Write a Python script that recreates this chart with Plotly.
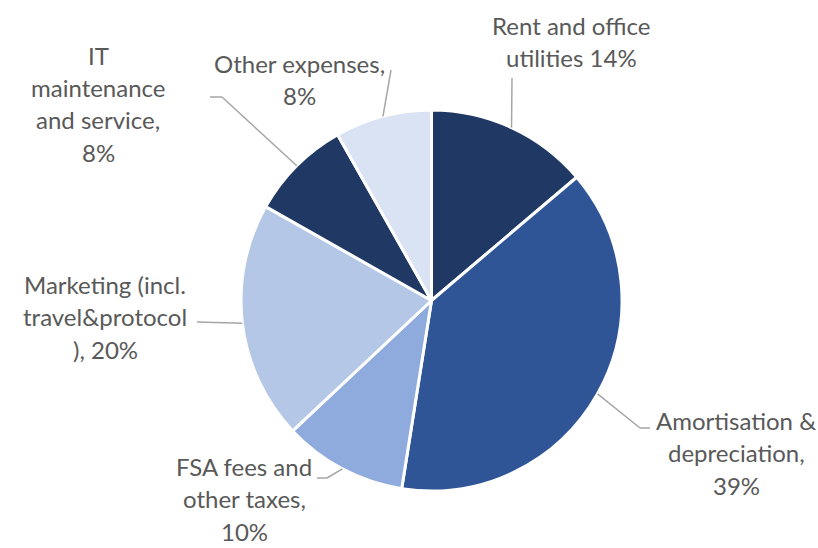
import math
import plotly.graph_objects as go

categories = ["Rent and office utilities", "Amortisation & depreciation", "FSA fees and other taxes",
              "Marketing (incl. travel&protocol)", "IT maintenance and service", "Other expenses"]
values = [13.8, 38.7, 10.5, 20.2, 8.6, 8.2]
label_lines = [
    ["Rent and office", "utilities 14%"],
    ["Amortisation &", "depreciation,", "39%"],
    ["FSA fees and", "other taxes,", "10%"],
    ["Marketing (incl.", "travel&protocol", "), 20%"],
    ["IT", "maintenance", "and service,", "8%"],
    ["Other expenses,", "8%"],
]
colors = ["#203864", "#2F5597", "#8FAADC", "#B4C7E7", "#203864", "#DAE3F3"]

W, H = 818, 548
cx, cy, R = 431.5, 300.5, 190.5

# label placement (pixels): text centre x, first line y, elbow point, line end
label_pos = [
    dict(x=571, y=25, elbow=None, end=(512, 78)),
    dict(x=736, y=420, elbow=(640, 428), end=(650, 428)),
    dict(x=244, y=466, elbow=(327, 478), end=(317, 478)),
    dict(x=105, y=284, elbow=None, end=(197, 322)),
    dict(x=98, y=55, elbow=(222, 97), end=(210, 97)),
    dict(x=299, y=63, elbow=None, end=(391, 70)),
]
line_gap = 32.5


def px(x, y):
    return x / W, 1 - y / H


fig = go.Figure(go.Pie(
    labels=categories, values=values, sort=False, direction="clockwise", rotation=0,
    marker=dict(colors=colors, line=dict(color="white", width=3)),
    textinfo="none", hoverinfo="label+percent", showlegend=False,
    domain=dict(x=[(cx - R) / W, (cx + R) / W], y=[1 - (cy + R) / H, 1 - (cy - R) / H]),
))

annotations = []
shapes = []
total = sum(values)
cum = 0
for v, lines, pos in zip(values, label_lines, label_pos):
    mid = (cum + v / 2) / total * 2 * math.pi
    cum += v
    rx, ry = cx + R * math.sin(mid), cy - R * math.cos(mid)
    pts = [(rx, ry)] + ([pos["elbow"]] if pos["elbow"] else []) + [pos["end"]]
    for (x0, y0), (x1, y1) in zip(pts[:-1], pts[1:]):
        a0, b0 = px(x0, y0)
        a1, b1 = px(x1, y1)
        shapes.append(dict(type="line", xref="paper", yref="paper", x0=a0, y0=b0, x1=a1, y1=b1,
                           line=dict(color="#A6A6A6", width=1.5)))
    for i, t in enumerate(lines):
        ax, ay = px(pos["x"], pos["y"] + i * line_gap)
        annotations.append(dict(text=t, x=ax, y=ay, xref="paper", yref="paper", showarrow=False,
                                xanchor="center", yanchor="middle",
                                font=dict(family="Lato", size=24, color="#595959")))

fig.update_layout(
    width=W, height=H, margin=dict(l=0, r=0, t=0, b=0),
    paper_bgcolor="white", plot_bgcolor="white",
    annotations=annotations, shapes=shapes,
)

fig.write_html("out.html", config={"displayModeBar": False},
               post_script="document.body.style.margin='0';")
